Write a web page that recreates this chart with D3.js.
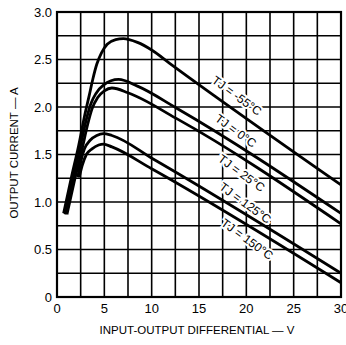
<!DOCTYPE html>
<meta charset="utf-8">
<style>
html, body { margin: 0; padding: 0; background: #fff; }
text { font-family: "Liberation Sans", Arial, Helvetica, sans-serif; fill: #000; }
</style>
<body>
<script src="https://d3js.org/d3.v7.min.js"></script>
<script>

var width = 346,
    height = 345;

// tick values
var xTicks = [0, 5, 10, 15, 20, 25, 30];
var yTicks = [0, 0.5, 1.0, 1.5, 2.0, 2.5, 3.0];
var yTickLabels = ["0", "0.5", "1.0", "1.5", "2.0", "2.5", "3.0"];

// curves: [input-output differential V, output current A]
var curveNames = ["TJ = -55°C", "TJ = 0°C", "TJ = 25°C", "TJ = 125°C", "TJ = 150°C"];
var tjm55 = [[0.7, 0.88], [1.5, 1.25], [2.3, 1.6], [2.9, 1.9], [3.4, 2.12], [3.8, 2.3], [4.2, 2.45], [4.7, 2.57], [5.3, 2.66], [6.2, 2.71], [7.0, 2.72], [8.5, 2.68], [10, 2.6], [11.9, 2.46], [30, 1.18]];
var tj0 = [[0.85, 0.87], [1.7, 1.25], [2.5, 1.6], [3.1, 1.87], [3.6, 2.04], [4.1, 2.14], [4.9, 2.23], [6.5, 2.29], [8.5, 2.22], [12.6, 1.99], [30, 0.88]];
var tj25 = [[1.05, 0.87], [1.9, 1.25], [2.7, 1.58], [3.2, 1.8], [3.7, 1.98], [4.3, 2.1], [5.0, 2.17], [5.8, 2.2], [7.5, 2.15], [12.6, 1.88], [30, 0.77]];
var tj125 = [[2.2, 1.26], [2.5, 1.42], [2.9, 1.56], [3.5, 1.65], [4.2, 1.7], [4.9, 1.72], [5.8, 1.7], [10.2, 1.45], [30, 0.25]];
var tj150 = [[2.35, 1.26], [2.65, 1.38], [3.1, 1.5], [3.7, 1.56], [4.4, 1.6], [4.9, 1.61], [5.8, 1.58], [10, 1.35], [30, 0.15]];
var curves = [tjm55, tj0, tj25, tj125, tj150];

var x = d3.scaleLinear().domain([0, 30]).range([57, 341]);
var y = d3.scaleLinear().domain([0, 3]).range([297, 12]);

var svg = d3.select("body").append("svg")
    .attr("width", width)
    .attr("height", height);

// grid
var grid = svg.append("g").attr("class", "grid");
grid.selectAll("line.v")
  .data(d3.range(0, 30.01, 2.5))
  .enter().append("line")
  .attr("x1", function(d) { return x(d); })
  .attr("x2", function(d) { return x(d); })
  .attr("y1", y(0)).attr("y2", y(3))
  .attr("stroke", "#000").attr("stroke-width", 1.6);
grid.selectAll("line.h")
  .data(d3.range(0, 3.01, 0.25))
  .enter().append("line")
  .attr("y1", function(d) { return y(d); })
  .attr("y2", function(d) { return y(d); })
  .attr("x1", x(0)).attr("x2", x(30))
  .attr("stroke", "#000").attr("stroke-width", 1.6);

// curve labels, with white backing that breaks the grid
var labelAt = [[19.0, 2.12], [18.9, 1.75], [19.5, 1.305], [19.9, 0.99], [20.1, 0.61]];
svg.append("g").attr("class", "labels")
  .selectAll("text")
  .data(curveNames)
  .enter().append("text")
  .attr("transform", function(d, i) { return "translate(" + x(labelAt[i][0]) + "," + y(labelAt[i][1]) + ") rotate(36)"; })
  .attr("text-anchor", "middle")
  .attr("dy", "0.35em")
  .attr("font-size", 12)
  .attr("stroke", "#fff")
  .attr("stroke-width", 4)
  .attr("paint-order", "stroke")
  .text(function(d) { return d; });

// curves
var line = d3.line()
  .x(function(d) { return x(d[0]); })
  .y(function(d) { return y(d[1]); })
  .curve(d3.curveMonotoneX);

svg.append("g").attr("class", "curves")
  .selectAll("path")
  .data(curves)
  .enter().append("path")
  .attr("fill", "none")
  .attr("stroke", "#000")
  .attr("stroke-width", 2.8)
  .attr("d", line);

// frame
svg.append("rect")
  .attr("x", x(0)).attr("y", y(3))
  .attr("width", x(30) - x(0)).attr("height", y(0) - y(3))
  .attr("fill", "none").attr("stroke", "#000").attr("stroke-width", 2.2);

// tick labels
svg.append("g").selectAll("text")
  .data(yTicks)
  .enter().append("text")
  .attr("x", 52)
  .attr("y", function(d) { return y(d); })
  .attr("dy", "0.35em")
  .attr("text-anchor", "end")
  .attr("font-size", 13)
  .text(function(d, i) { return yTickLabels[i]; });

svg.append("g").selectAll("text")
  .data(xTicks)
  .enter().append("text")
  .attr("x", function(d) { return x(d); })
  .attr("y", 313)
  .attr("text-anchor", "middle")
  .attr("font-size", 13)
  .text(function(d) { return d; });

// axis titles
svg.append("text")
  .attr("x", 197).attr("y", 334)
  .attr("text-anchor", "middle")
  .attr("font-size", 11.5)
  .text("INPUT-OUTPUT DIFFERENTIAL — V");

svg.append("text")
  .attr("transform", "translate(18,153) rotate(-90)")
  .attr("text-anchor", "middle")
  .attr("font-size", 11.5)
  .text("OUTPUT CURRENT — A");

</script>
</body>
